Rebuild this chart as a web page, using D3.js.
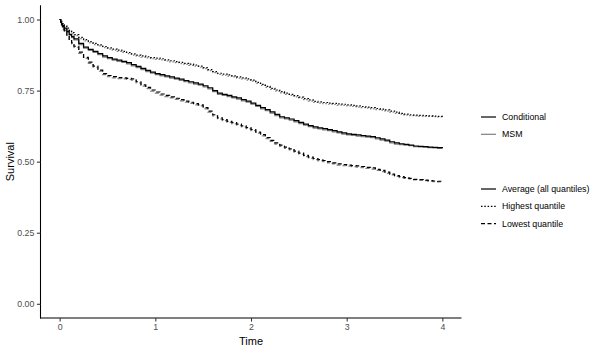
<!DOCTYPE html>
<html>
<head>
<meta charset="utf-8">
<script src="https://cdn.jsdelivr.net/npm/d3@7"></script>
<style>
  html, body { margin: 0; padding: 0; background: #fff; }
  svg { display: block; font-family: "Liberation Sans", Arial, Helvetica, sans-serif; }
</style>
</head>
<body>
<svg id="chart" width="600" height="350"></svg>
<script>
// Follow-up times (shared step points)
const times = [
  0.00, 0.01, 0.02, 0.03, 0.04, 0.05, 0.075, 0.10, 0.125, 0.15,
  0.20, 0.25, 0.30, 0.35, 0.40, 0.45,
  0.50, 0.55, 0.60, 0.65, 0.70, 0.75, 0.80, 0.85, 0.90, 0.95,
  1.00, 1.05, 1.10, 1.15, 1.20, 1.25, 1.30, 1.35, 1.40, 1.45,
  1.50, 1.55, 1.60, 1.65, 1.70, 1.75, 1.80, 1.85, 1.90, 1.95,
  2.00, 2.05, 2.10, 2.15, 2.20, 2.25, 2.30, 2.35, 2.40, 2.45,
  2.50, 2.55, 2.60, 2.65, 2.70, 2.75, 2.80, 2.85, 2.90, 2.95,
  3.00, 3.05, 3.10, 3.15, 3.20, 3.25, 3.30, 3.35, 3.40, 3.45,
  3.50, 3.55, 3.60, 3.65, 3.70, 3.75, 3.80, 3.85, 3.90, 3.95,
  4.00];

// Conditional survival
const condAverage = [
  1.000,0.993,0.986,0.979,0.974,0.970,0.958,0.948,0.940,0.932,
  0.916,0.903,0.895,0.888,0.880,0.872,
  0.866,0.861,0.857,0.853,0.848,0.841,0.835,0.828,0.821,0.815,
  0.810,0.806,0.802,0.798,0.794,0.790,0.785,0.781,0.777,0.773,
  0.767,0.760,0.750,0.741,0.737,0.733,0.728,0.724,0.718,0.713,
  0.706,0.698,0.690,0.683,0.675,0.666,0.658,0.654,0.650,0.644,
  0.638,0.632,0.627,0.622,0.619,0.616,0.613,0.609,0.605,0.601,
  0.598,0.596,0.594,0.592,0.590,0.588,0.584,0.580,0.576,0.570,
  0.566,0.563,0.561,0.558,0.555,0.554,0.553,0.551,0.550,0.549,
  0.548];
const condHighest = [
  1.000,0.995,0.990,0.985,0.981,0.978,0.970,0.962,0.954,0.947,
  0.937,0.929,0.922,0.916,0.911,0.905,
  0.900,0.896,0.892,0.888,0.884,0.879,0.875,0.872,0.869,0.866,
  0.864,0.862,0.858,0.855,0.852,0.849,0.846,0.843,0.840,0.836,
  0.831,0.824,0.817,0.811,0.808,0.805,0.802,0.798,0.795,0.791,
  0.787,0.779,0.772,0.765,0.758,0.752,0.746,0.741,0.737,0.732,
  0.727,0.722,0.717,0.712,0.710,0.708,0.706,0.705,0.703,0.702,
  0.700,0.698,0.696,0.694,0.692,0.690,0.687,0.685,0.682,0.678,
  0.674,0.670,0.667,0.665,0.664,0.663,0.662,0.661,0.660,0.659,
  0.658];
const condLowest = [
  1.000,0.991,0.982,0.974,0.967,0.961,0.945,0.930,0.918,0.906,
  0.885,0.867,0.850,0.836,0.822,0.810,
  0.803,0.799,0.796,0.795,0.793,0.791,0.781,0.770,0.761,0.752,
  0.745,0.738,0.733,0.728,0.723,0.718,0.713,0.709,0.704,0.700,
  0.690,0.678,0.665,0.654,0.648,0.642,0.637,0.632,0.626,0.620,
  0.613,0.604,0.595,0.585,0.575,0.566,0.558,0.551,0.545,0.537,
  0.530,0.522,0.516,0.511,0.507,0.504,0.500,0.496,0.492,0.490,
  0.488,0.486,0.485,0.483,0.480,0.478,0.473,0.469,0.463,0.456,
  0.451,0.447,0.444,0.441,0.438,0.437,0.435,0.433,0.432,0.431,
  0.430];

// MSM survival
const msmAverage = [
  1.000,0.992,0.984,0.977,0.971,0.966,0.955,0.944,0.936,0.928,
  0.912,0.899,0.891,0.884,0.876,0.868,
  0.862,0.857,0.853,0.849,0.844,0.837,0.831,0.824,0.817,0.811,
  0.806,0.802,0.798,0.794,0.790,0.786,0.781,0.777,0.773,0.769,
  0.763,0.756,0.746,0.737,0.733,0.729,0.724,0.720,0.714,0.709,
  0.702,0.694,0.686,0.679,0.671,0.662,0.654,0.650,0.646,0.640,
  0.634,0.628,0.623,0.618,0.615,0.612,0.609,0.605,0.601,0.597,
  0.594,0.592,0.590,0.588,0.586,0.584,0.580,0.576,0.572,0.566,
  0.562,0.560,0.558,0.556,0.553,0.552,0.551,0.549,0.548,0.547,
  0.546];
const msmHighest = [
  1.000,0.994,0.988,0.983,0.979,0.975,0.966,0.958,0.950,0.943,
  0.933,0.925,0.918,0.912,0.907,0.901,
  0.896,0.892,0.888,0.884,0.880,0.875,0.871,0.868,0.865,0.862,
  0.860,0.858,0.854,0.851,0.848,0.845,0.842,0.839,0.836,0.832,
  0.827,0.820,0.813,0.807,0.804,0.801,0.798,0.794,0.791,0.787,
  0.783,0.775,0.768,0.761,0.754,0.748,0.742,0.737,0.733,0.728,
  0.723,0.718,0.713,0.708,0.706,0.704,0.702,0.701,0.699,0.698,
  0.696,0.694,0.692,0.690,0.688,0.686,0.683,0.681,0.678,0.674,
  0.670,0.667,0.664,0.662,0.661,0.660,0.659,0.659,0.658,0.657,
  0.656];
const msmLowest = [
  1.000,0.990,0.980,0.971,0.963,0.957,0.941,0.926,0.914,0.902,
  0.881,0.863,0.846,0.832,0.818,0.806,
  0.799,0.795,0.792,0.791,0.789,0.787,0.777,0.766,0.757,0.748,
  0.741,0.734,0.729,0.724,0.719,0.714,0.709,0.705,0.700,0.696,
  0.686,0.674,0.661,0.650,0.644,0.638,0.633,0.628,0.622,0.616,
  0.609,0.600,0.591,0.581,0.571,0.562,0.554,0.547,0.541,0.533,
  0.526,0.518,0.512,0.507,0.503,0.500,0.496,0.492,0.488,0.486,
  0.484,0.482,0.481,0.479,0.476,0.474,0.469,0.465,0.459,0.453,
  0.448,0.444,0.441,0.439,0.436,0.435,0.433,0.431,0.430,0.429,
  0.428];

const xTicks = [0, 1, 2, 3, 4];
const yTicks = [0, 0.25, 0.5, 0.75, 1];
const methodLabels = ["Conditional", "MSM"];
const quantileLabels = ["Average (all quantiles)", "Highest quantile", "Lowest quantile"];

const methodColor = { "Conditional": "#000000", "MSM": "#7f7f7f" };
const quantileDash = {
  "Average (all quantiles)": null,
  "Highest quantile": "1.5,1.8",
  "Lowest quantile": "4,2.5"
};

const series = [
  { method: "MSM", quantile: "Average (all quantiles)", values: msmAverage },
  { method: "MSM", quantile: "Highest quantile", values: msmHighest },
  { method: "MSM", quantile: "Lowest quantile", values: msmLowest },
  { method: "Conditional", quantile: "Average (all quantiles)", values: condAverage },
  { method: "Conditional", quantile: "Highest quantile", values: condHighest },
  { method: "Conditional", quantile: "Lowest quantile", values: condLowest }
];

const svg = d3.select("#chart");
const panel = { left: 40.5, right: 461.5, top: 5.3, bottom: 318 };

const x = d3.scaleLinear().domain([-0.2, 4.2]).range([panel.left, panel.right]);
const y = d3.scaleLinear().domain([-0.05, 1.05]).range([panel.bottom, panel.top]);

const lineGen = d3.line()
  .x(d => x(d[0]))
  .y(d => y(d[1]))
  .curve(d3.curveStepAfter);

// Survival curves
const lw = 1.2;
svg.append("g").selectAll("path")
  .data(series)
  .join("path")
  .attr("d", s => lineGen(times.map((t, i) => [t, s.values[i]])))
  .attr("fill", "none")
  .attr("stroke", s => methodColor[s.method])
  .attr("stroke-width", lw)
  .attr("stroke-dasharray", s => quantileDash[s.quantile]);

// Axes
const xAxis = svg.append("g")
  .attr("transform", `translate(0,${panel.bottom})`)
  .call(d3.axisBottom(x).tickValues(xTicks).tickFormat(d3.format("d")).tickSize(3.6).tickPadding(2.5));
const yAxis = svg.append("g")
  .attr("transform", `translate(${panel.left},0)`)
  .call(d3.axisLeft(y).tickValues(yTicks).tickFormat(d3.format(".2f")).tickSize(3.6).tickPadding(2.5));

[xAxis, yAxis].forEach(a => {
  a.select(".domain").attr("stroke", "#000").attr("stroke-width", 1.07);
  a.selectAll(".tick line").attr("stroke", "#333").attr("stroke-width", 1.07);
  a.selectAll(".tick text").attr("fill", "#4d4d4d").style("font-size", "8.8px")
    .style("font-family", "'Liberation Sans', Arial, sans-serif");
});
// Axis lines span the full panel
xAxis.select(".domain").attr("d", `M${panel.left - 0.5},0H${panel.right}`);
yAxis.select(".domain").attr("d", `M0,${panel.top}V${panel.bottom + 0.5}`);

// Axis titles
svg.append("text")
  .attr("x", (panel.left + panel.right) / 2)
  .attr("y", 345)
  .attr("text-anchor", "middle")
  .style("font-size", "11px")
  .attr("fill", "#000")
  .text("Time");
svg.append("text")
  .attr("transform", `translate(14,${(panel.top + panel.bottom) / 2}) rotate(-90)`)
  .attr("text-anchor", "middle")
  .style("font-size", "11px")
  .attr("fill", "#000")
  .text("Survival");

// Legends
const keyX0 = 481, keyX1 = 496, textX = 502;
const legend1 = svg.append("g").selectAll("g")
  .data(methodLabels)
  .join("g")
  .attr("transform", (d, i) => `translate(0,${117 + i * 17.3})`);
legend1.append("line")
  .attr("x1", keyX0).attr("x2", keyX1)
  .attr("stroke", d => methodColor[d]).attr("stroke-width", lw);
legend1.append("text")
  .attr("x", textX).attr("dy", "0.35em")
  .style("font-size", "8.8px").attr("fill", "#000")
  .text(d => d);

const legend2 = svg.append("g").selectAll("g")
  .data(quantileLabels)
  .join("g")
  .attr("transform", (d, i) => `translate(0,${189 + i * 17.3})`);
legend2.append("line")
  .attr("x1", keyX0).attr("x2", keyX1)
  .attr("stroke", "#000").attr("stroke-width", lw)
  .attr("stroke-dasharray", d => quantileDash[d]);
legend2.append("text")
  .attr("x", textX).attr("dy", "0.35em")
  .style("font-size", "8.8px").attr("fill", "#000")
  .text(d => d);
</script>
</body>
</html>
